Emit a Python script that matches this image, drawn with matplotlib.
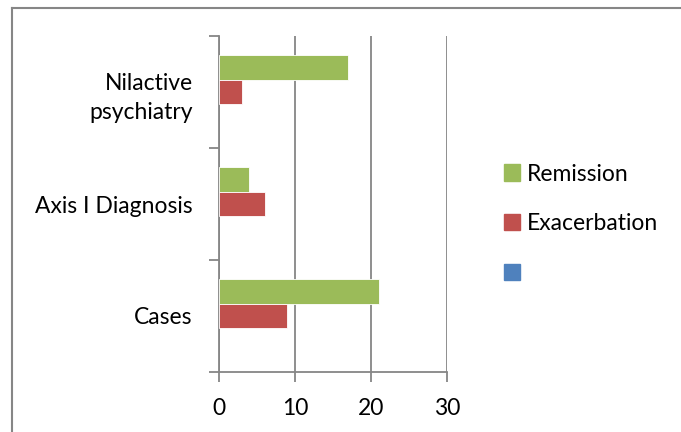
import matplotlib.pyplot as plt
import numpy as np
from matplotlib.lines import Line2D
from matplotlib.patches import Patch

plt.rcParams['font.family'] = ['Lato', 'DejaVu Sans']

categorias = ['Cases', 'Axis I Diagnosis', 'Nilactive\npsychiatry']
remissao = [21, 4, 17]
exacerbacao = [9, 6, 3]
serie3 = [np.nan, np.nan, np.nan]  # terceira série sem valores
xticks = [0, 10, 20, 30]

verde = '#9BBB59'
vermelho = '#C0504D'
azul = '#4F81BD'
cinza = '#868686'
fs = 16.5

fig = plt.figure(figsize=(6.81, 4.32), dpi=100)
ax = fig.add_axes([219 / 681, 1 - 372 / 432, 228 / 681, 336 / 432])

y = np.arange(len(categorias))
h = 0.223
ax.barh(y + h, remissao, height=h, color=verde, edgecolor='white', linewidth=0.6, zorder=3)
ax.barh(y, exacerbacao, height=h, color=vermelho, edgecolor='white', linewidth=0.6, zorder=3)
ax.barh(y - h, serie3, height=h, color=azul, edgecolor='white', linewidth=0.6, zorder=3)

ax.set_xlim(0, 30)
ax.set_ylim(-0.5, 2.5)
ax.set_xticks(xticks)
ax.set_xticklabels([str(t) for t in xticks], fontsize=fs)
ax.grid(axis='x', color=cinza, linewidth=1.3, zorder=0)

# rótulos das categorias no centro, marcas nas divisões
ax.set_yticks(y)
ax.set_yticklabels(categorias, fontsize=fs, ha='right', linespacing=1.45)
ax.tick_params(axis='y', length=0, pad=19)
ax.set_yticks([-0.5, 0.5, 1.5, 2.5], minor=True)
ax.tick_params(axis='y', which='minor', length=7, color=cinza, width=1.3)
ax.tick_params(axis='x', length=7, color=cinza, width=1.3, pad=12)

for lado in ['top', 'right']:
    ax.spines[lado].set_visible(False)
for lado in ['left', 'bottom']:
    ax.spines[lado].set_color(cinza)
    ax.spines[lado].set_linewidth(1.3)

legenda = [Patch(color=verde, label='Remission'),
           Patch(color=vermelho, label='Exacerbation'),
           Patch(color=azul, label=' ')]
fig.legend(handles=legenda, loc='upper left', bbox_to_anchor=(483 / 681, 1 - 143 / 432),
           frameon=False, fontsize=fs, handlelength=0.72, handleheight=0.72,
           handletextpad=0.3, labelspacing=1.25)

# moldura do gráfico (esquerda e topo)
fig.add_artist(Line2D([11.5 / 681, 11.5 / 681], [0, 1 - 7.5 / 432], transform=fig.transFigure,
                      color=cinza, linewidth=1.5))
fig.add_artist(Line2D([11.5 / 681, 1], [1 - 7.5 / 432, 1 - 7.5 / 432], transform=fig.transFigure,
                      color=cinza, linewidth=1.5))

fig.savefig('out.png', dpi=100)
